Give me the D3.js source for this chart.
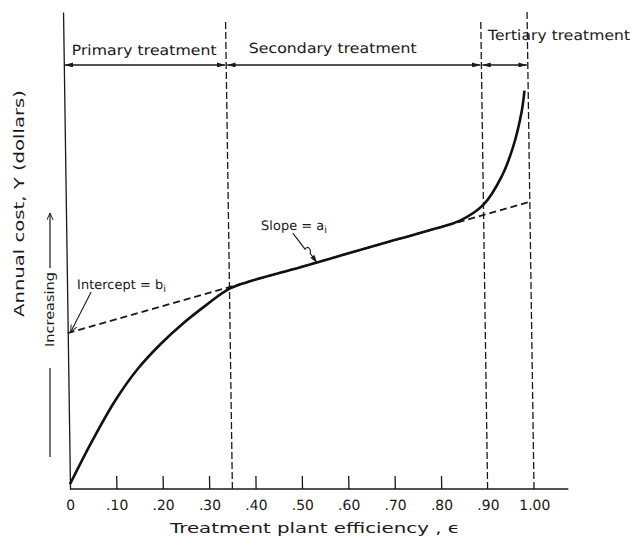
<!DOCTYPE html>
<html>
<head>
<meta charset="utf-8">
<script src="https://cdn.jsdelivr.net/npm/d3@7"></script>
<style>
  body { margin: 0; background: #fff; }
  text { font-family: "DejaVu Sans", sans-serif; fill: #1a1a1a; }
</style>
</head>
<body>
<div id="chart"></div>
<script>
// Tick positions and labels on the efficiency axis
const tickValues = [0, 0.1, 0.2, 0.3, 0.4, 0.5, 0.6, 0.7, 0.8, 0.9, 1.0];
const tickLabels = ["0", ".10", ".20", ".30", ".40", ".50", ".60", ".70", ".80", ".90", "1.00"];

// Stage boundaries (dashed verticals) and their top (relative cost units)
const boundaryValues = [0.35, 0.90, 1.00];
const boundaryTops = [98, 98, 100];

// Treatment stages
const stageNames = ["Primary treatment", "Secondary treatment", "Tertiary treatment"];
const stageStarts = [0, 0.35, 0.90];
const stageEnds = [0.35, 0.90, 1.00];

// Cost curve (efficiency, relative cost)
const curveEfficiency = [0, 0.05, 0.10, 0.15, 0.20, 0.25, 0.30, 0.35, 0.40, 0.50, 0.60, 0.70, 0.80, 0.85, 0.90, 0.94, 0.965, 0.985, 0.992];
const curveCost = [1.0, 10.2, 18.5, 25.2, 30.4, 34.8, 38.6, 42.0, 43.7, 46.4, 49.2, 52.0, 54.7, 56.3, 59.6, 65.5, 71.5, 79.0, 83.5];

// Linear approximation of the secondary stage
const interceptB = 32.7;
const slopeA = 27.5;
const stageArrowCost = 88.9;

const width = 632, height = 541;
const x = d3.scaleLinear().domain([0, 1]).range([70, 534]);
const y = d3.scaleLinear().domain([0, 100]).range([489, 12]);

const svg = d3.select("#chart").append("svg")
    .attr("width", width)
    .attr("height", height);

const defs = svg.append("defs");
defs.append("marker")
    .attr("id", "head")
    .attr("viewBox", "0 0 10 6")
    .attr("refX", 10).attr("refY", 3)
    .attr("markerWidth", 9).attr("markerHeight", 5)
    .attr("markerUnits", "userSpaceOnUse")
    .attr("orient", "auto-start-reverse")
    .append("path").attr("d", "M0,0 L10,3 L0,6 Z").attr("fill", "#1a1a1a");
defs.append("marker")
    .attr("id", "openHead")
    .attr("viewBox", "0 0 10 8")
    .attr("refX", 9).attr("refY", 4)
    .attr("markerWidth", 8).attr("markerHeight", 7)
    .attr("markerUnits", "userSpaceOnUse")
    .attr("orient", "auto")
    .append("path").attr("d", "M0,0 L9,4 L0,8").attr("fill", "none")
    .attr("stroke", "#1a1a1a").attr("stroke-width", 1.2);

// The scan is slightly sheared: verticals lean left toward the top
const plot = svg.append("g")
    .attr("transform", `translate(${x(0)},${y(0)}) matrix(1,0,0.0146,1,0,0) translate(${-x(0)},${-y(0)})`);

// Y axis (no ticks)
plot.append("g")
    .attr("transform", `translate(${x(0)},0)`)
    .call(d3.axisLeft(y).tickValues([]).tickSizeOuter(0))
    .select(".domain").attr("stroke", "#1a1a1a").attr("stroke-width", 1.3);

// X axis
const xAxis = plot.append("g")
    .attr("transform", `translate(0,${y(0)})`)
    .call(d3.axisBottom(x)
        .tickValues(tickValues)
        .tickFormat((d, i) => tickLabels[i])
        .tickSizeInner(-13)
        .tickSizeOuter(0)
        .tickPadding(11));
xAxis.select(".domain").remove();
xAxis.selectAll(".tick line")
    .attr("stroke", "#1a1a1a").attr("stroke-width", 1.3)
    .filter(d => d === 0 || d >= 0.9).remove();
xAxis.selectAll(".tick text")
    .attr("font-family", "DejaVu Sans").attr("font-size", 14).attr("fill", "#1a1a1a");
xAxis.append("line")
    .attr("x1", x(0)).attr("x2", x(1.074))
    .attr("stroke", "#1a1a1a").attr("stroke-width", 1.6);

// Dashed stage boundaries
plot.selectAll(".boundary")
    .data(boundaryValues)
    .join("line")
    .attr("class", "boundary")
    .attr("x1", d => x(d)).attr("x2", d => x(d))
    .attr("y1", y(0)).attr("y2", (d, i) => y(boundaryTops[i]))
    .attr("stroke", "#1a1a1a").attr("stroke-width", 1.3)
    .attr("stroke-dasharray", "7,3");

// Stage arrows and labels
const stageOffsets = [-10, -12, -25];
const stageWidths = [145, 168, 142];
stageNames.forEach((name, i) => {
    plot.append("line")
        .attr("x1", x(stageStarts[i]) + 1).attr("x2", x(stageEnds[i]) - 1)
        .attr("y1", y(stageArrowCost)).attr("y2", y(stageArrowCost))
        .attr("stroke", "#1a1a1a").attr("stroke-width", 1.5)
        .attr("marker-start", "url(#head)")
        .attr("marker-end", "url(#head)");
});
const stageX = [x(0) + 8, x(0.58), x(0.90) + 7];
const stageAnchor = ["start", "middle", "start"];
stageNames.forEach((name, i) => {
    plot.append("text")
        .attr("x", stageX[i])
        .attr("y", y(stageArrowCost) + stageOffsets[i])
        .attr("text-anchor", stageAnchor[i])
        .attr("font-size", 14)
        .attr("textLength", stageWidths[i])
        .attr("lengthAdjust", "spacingAndGlyphs")
        .text(name);
});

// Linear fit (dashed)
const fitLine = d3.line().x(d => x(d)).y(d => y(interceptB + slopeA * d));
plot.append("path")
    .attr("d", fitLine([0, 1.0]))
    .attr("fill", "none")
    .attr("stroke", "#1a1a1a").attr("stroke-width", 1.8)
    .attr("stroke-dasharray", "7,4");

// Cost curve
const costLine = d3.line()
    .x(d => x(d[0])).y(d => y(d[1]))
    .curve(d3.curveCatmullRom.alpha(0.5));
plot.append("path")
    .attr("d", costLine(curveEfficiency.map((e, i) => [e, curveCost[i]])))
    .attr("fill", "none")
    .attr("stroke", "#111").attr("stroke-width", 2.6);

// Intercept annotation
const bx = x(0) + 3, by = y(interceptB) - 1;
plot.append("line")
    .attr("x1", bx + 21).attr("y1", by - 40)
    .attr("x2", bx).attr("y2", by)
    .attr("stroke", "#1a1a1a").attr("stroke-width", 1.1)
    .attr("marker-end", "url(#openHead)");
const interceptText = plot.append("text")
    .attr("x", x(0) + 10).attr("y", by - 43)
    .attr("font-size", 13);
interceptText.append("tspan").text("Intercept = b");
interceptText.append("tspan").attr("font-size", 10).attr("dy", 3).text("i");

// Slope annotation
const se = 0.54;
const sx = x(se), sy = y(interceptB + slopeA * se) + 1;
plot.append("path")
    .attr("d", `M${sx - 24},${sy - 30} L${sx - 12},${sy - 14} q2,-3 4,-1 q2,2 1,5 L${sx},${sy}`)
    .attr("fill", "none")
    .attr("stroke", "#1a1a1a").attr("stroke-width", 1.1)
    .attr("marker-end", "url(#head)");
const slopeText = plot.append("text")
    .attr("x", x(0.42)).attr("y", sy - 33)
    .attr("font-size", 13);
slopeText.append("tspan").text("Slope = a");
slopeText.append("tspan").attr("font-size", 10).attr("dy", 3).text("i");

// X axis title
svg.append("text")
    .attr("x", 315).attr("y", 533)
    .attr("text-anchor", "middle")
    .attr("font-size", 14)
    .attr("textLength", 290)
    .attr("lengthAdjust", "spacingAndGlyphs")
    .text("Treatment plant efficiency , \u03f5");

// Y axis title
svg.append("text")
    .attr("transform", "translate(19,203.5) rotate(-90)")
    .attr("text-anchor", "middle")
    .attr("dy", "0.35em")
    .attr("font-size", 14)
    .attr("textLength", 227)
    .attr("lengthAdjust", "spacingAndGlyphs")
    .text("Annual cost, Y (dollars)");

// "Increasing" arrow
svg.append("line")
    .attr("x1", 50).attr("x2", 50).attr("y1", 457).attr("y2", 368)
    .attr("stroke", "#1a1a1a").attr("stroke-width", 1.2);
svg.append("line")
    .attr("x1", 50).attr("x2", 50).attr("y1", 268).attr("y2", 213)
    .attr("stroke", "#1a1a1a").attr("stroke-width", 1.2)
    .attr("marker-end", "url(#openHead)");
svg.append("text")
    .attr("transform", "translate(49,309.5) rotate(-90)")
    .attr("text-anchor", "middle")
    .attr("dy", "0.35em")
    .attr("font-size", 13)
    .attr("textLength", 75)
    .attr("lengthAdjust", "spacingAndGlyphs")
    .text("Increasing");
</script>
</body>
</html>
